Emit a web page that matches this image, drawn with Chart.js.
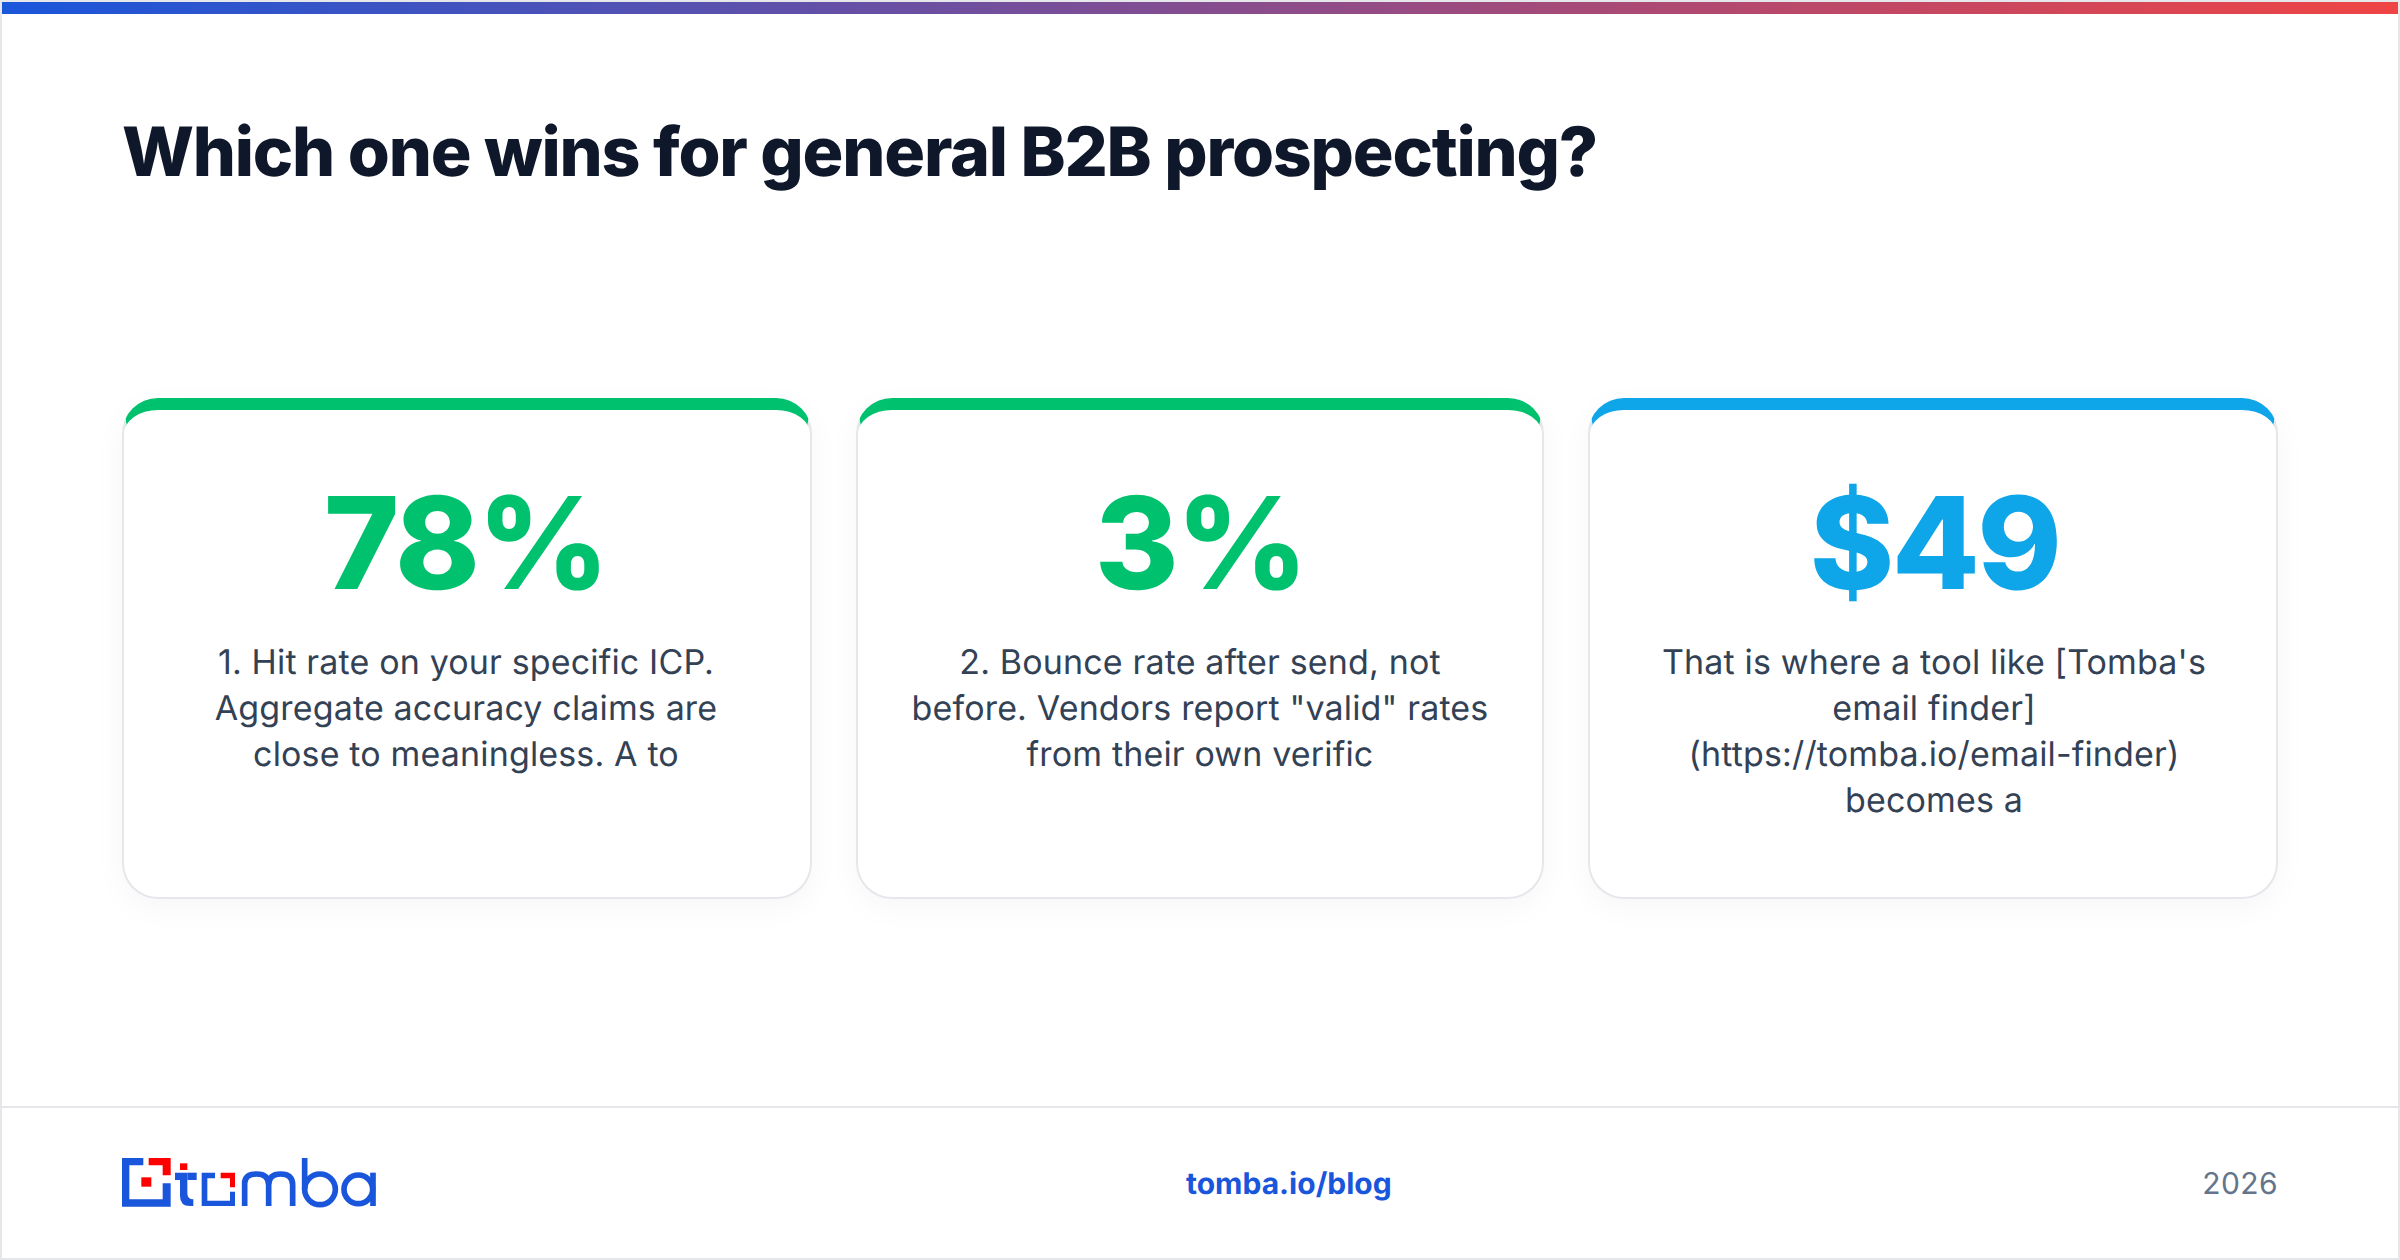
<!DOCTYPE html>
<html>
<head>
<meta charset="utf-8">
<title>Which one wins for general B2B prospecting?</title>
<script src="https://cdn.jsdelivr.net/npm/chart.js@4"></script>
<style>
  * { box-sizing: border-box; }
  html, body { margin: 0; background: #fff; }
  body { width: 2400px; height: 1260px; position: relative; overflow: hidden; font-family: Inter, sans-serif; text-rendering: geometricPrecision; }
  #frame { position: absolute; inset: 0; border: 2px solid #e5e7eb; }
  #stripe { position: absolute; left: 2px; right: 2px; top: 2px; height: 12px; background: linear-gradient(90deg, #1a56db, #ef4444); }
  h1 { position: absolute; left: 122px; top: 111px; margin: 0; font-size: 68px; line-height: 82px; font-weight: 800; letter-spacing: -1.2px; color: #0f172a; white-space: nowrap; }
  .card { position: absolute; top: 398px; height: 501px; background: #fff; border: 2px solid #e5e7eb; border-top: 12px solid #00c16e; border-radius: 36px; box-shadow: 0 8px 32px rgba(15, 23, 42, 0.04); }
  .note { position: absolute; top: 640px; width: 734px; font-size: 34px; line-height: 46px; letter-spacing: 0.15px; color: #334155; text-align: center; }
  .note span { display: block; }
  #my-chart { position: absolute; left: 98px; top: 475px; }
  #footer-line { position: absolute; left: 2px; right: 2px; top: 1106px; height: 2px; background: #e5e7eb; }
  #logo { position: absolute; left: 100px; top: 1130px; }
  #blog { position: absolute; left: 1186px; top: 1165px; font-size: 30px; line-height: 38px; font-weight: 700; color: #1a56db; }
  #year { position: absolute; right: 122px; top: 1165px; font-size: 30px; line-height: 38px; letter-spacing: 0.4px; color: #64748b; }
</style>
</head>
<body>
<div id="frame"></div>
<div id="stripe"></div>
<h1>Which one wins for general B2B prospecting?</h1>
<div class="card" style="left:122px;width:690px"></div>
<div class="card" style="left:856px;width:688px"></div>
<div class="card" style="left:1588px;width:690px;border-top-color:#0ea5e9"></div>
<div class="note" id="note-0" style="left:99px"></div>
<div class="note" id="note-1" style="left:833px"></div>
<div class="note" id="note-2" style="left:1567px"></div>
<canvas id="my-chart" width="2204" height="320"></canvas>
<div id="footer-line"></div>
<svg id="logo" width="300" height="100" viewBox="0 0 900 300">
  <g fill="#1a56db">
    <path d="M66 84H130V106H88V208H188V160H212V230H66Z"/>
    <path d="M240 128H262V190Q262 208 280 208V228H270Q240 228 240 198V150H225V128Z"/>
    <path d="M262 128H290V150H262Z"/>
    <path d="M305 128H345V145H322V212H390V185H405V228H305Z"/>
  </g>
  <g fill="#ff0000">
    <path d="M146 84H212V136H188V106H146Z"/>
    <rect x="124" y="142" width="30" height="28"/>
    <rect x="240" y="100" width="22" height="20"/>
    <path d="M362 128H405V172H390V145H362Z"/>
  </g>
  <g fill="none" stroke="#1a56db" stroke-width="17">
    <path d="M434 228V160Q434 132 470 132Q506 132 506 165V228M506 165Q506 132 542 132Q578 132 578 165V228"/>
    <path d="M614 84V178"/>
    <circle cx="660" cy="178" r="46"/>
    <circle cx="775" cy="178" r="43"/>
    <path d="M819 128V228"/>
  </g>
</svg>
<div id="blog">tomba.io/blog</div>
<div id="year">2026</div>

<script>
'use strict';

// CHART DATA

let statValues = [78, 3, 49];
let statLabels = ['78%', '3%', '$49'];
let statColors = ['#00c16e', '#00c16e', '#0ea5e9'];
let statNotes = [
  ['1. Hit rate on your specific ICP.', 'Aggregate accuracy claims are', 'close to meaningless. A to'],
  ['2. Bounce rate after send, not', 'before. Vendors report "valid" rates', 'from their own verific'],
  ['That is where a tool like [Tomba\'s', 'email finder]', '(https://tomba.io/email-finder)', 'becomes a']
];

// CANVAS REFERENCE

let ctx = document.getElementById('my-chart').getContext('2d');

// NOTES UNDER THE BIG NUMBERS

function renderNotes() {
  for (let i = 0; i < statNotes.length; i++) {
    let noteEl = document.getElementById(`note-${i}`);
    for (let j = 0; j < statNotes[i].length; j++) {
      let lineEl = document.createElement('span');
      lineEl.textContent = statNotes[i][j];
      noteEl.appendChild(lineEl);
    }
  }
}

// RENDER CHART

// canvas resets its text settings on resize, so set them right before each draw
let tightText = {
  id: 'tightText',
  beforeDraw(chart) {
    chart.ctx.letterSpacing = '-2.56px';
    chart.ctx.textRendering = 'geometricPrecision';
  }
};

// the picture has no visible bars, the values only show as the big labels on the top axis
function renderChart() {
  let chartObj = {
    type: 'bar',
    data: {
      labels: statLabels,
      datasets: [{
        data: statValues,
        backgroundColor: 'transparent'
      }]
    },
    plugins: [tightText],
    options: {
      responsive: false,
      animation: false,
      layout: { padding: 0 },
      plugins: {
        legend: { display: false },
        tooltip: { enabled: false }
      },
      scales: {
        x: {
          position: 'top',
          grid: { display: false },
          border: { display: false },
          ticks: {
            autoSkip: false,
            maxRotation: 0,
            padding: 0,
            color: (c) => statColors[c.index],
            font: { family: 'Inter', size: 128, weight: '800' }
          }
        },
        y: { display: false, min: 0, max: 100 }
      }
    }
  };

  new Chart(ctx, chartObj);
}

renderNotes();
document.fonts.load('800 128px Inter').then(renderChart);
</script>
</body>
</html>
